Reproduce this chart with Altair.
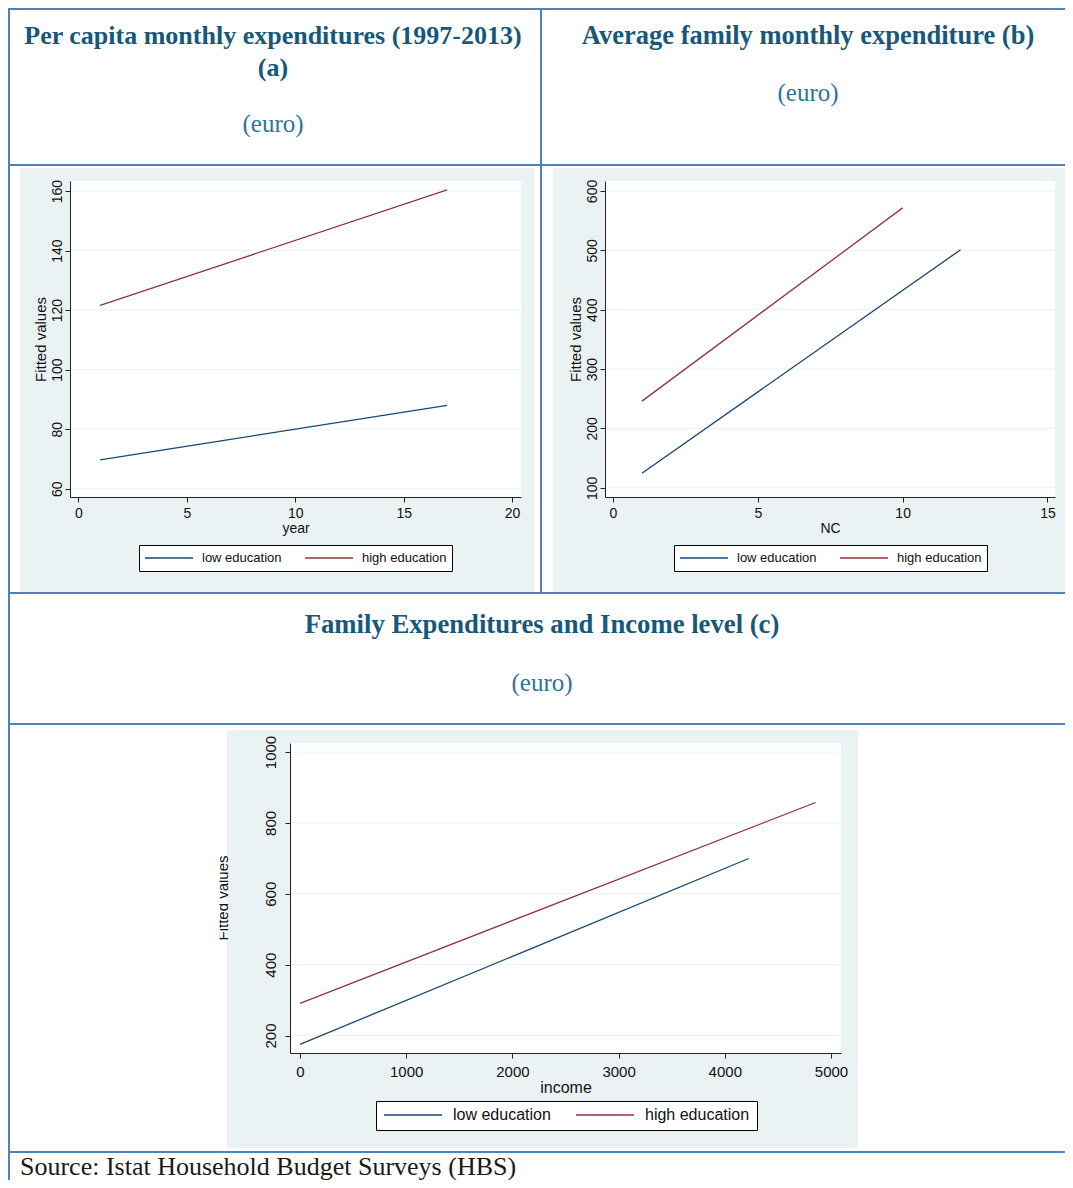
import altair as alt
import pandas as pd

# ---------------- data ----------------
groups = ["low education", "high education"]
group_colors = ["#1a476f", "#90353b"]

# (a) Per capita monthly expenditures, fitted values vs year
a_year_low = [1, 17]
a_val_low = [69.7, 88.0]
a_year_high = [1, 17]
a_val_high = [121.6, 160.4]
a_xticks = [0, 5, 10, 15, 20]
a_yticks = [60, 80, 100, 120, 140, 160]

# (b) Average family monthly expenditure, fitted values vs NC
b_nc_low = [1, 12]
b_val_low = [124.5, 501.0]
b_nc_high = [1, 10]
b_val_high = [246.0, 571.5]
b_xticks = [0, 5, 10, 15]
b_yticks = [100, 200, 300, 400, 500, 600]

# (c) Family expenditures and income level, fitted values vs income
c_inc_low = [0, 4225]
c_val_low = [175.0, 699.5]
c_inc_high = [0, 4855]
c_val_high = [291.0, 857.5]
c_xticks = [0, 1000, 2000, 3000, 4000, 5000]
c_yticks = [200, 400, 600, 800, 1000]

title_a = ["Per capita monthly expenditures (1997-2013)", "(a)"]
title_b = "Average family monthly expenditure (b)"
title_c = "Family Expenditures and Income level (c)"
unit_label = "(euro)"
source_label = "Source:  Istat Household Budget Surveys (HBS)"
y_title = "Fitted values"

# ---------------- style ----------------
W, H = 1057, 1172
M = 8
RIGHT = M + W
SERIF = "Liberation Serif"
SANS = "Liberation Sans"
BLUE = "#4f81bd"
BG = "#eaf2f3"
GRID = "#eaf2f3"
AX = "#222222"
TX = "#111111"
TITLE_COL = "#17587a"
EURO_COL = "#2f7399"


def X(px):
    return px - M


def Y(py):
    return py - M


one = alt.Data(values=[{"k": 1}])


def box(x1, y1, x2, y2, color):
    return alt.Chart(one).mark_rect(color=color, strokeWidth=0).encode(
        x=alt.value(X(x1)), x2=alt.value(X(x2)), y=alt.value(Y(y1)), y2=alt.value(Y(y2))
    )


def hline(y, x1, x2):
    return alt.Chart(one).mark_rule(color=BLUE, strokeWidth=2).encode(
        x=alt.value(X(x1)), x2=alt.value(X(x2)), y=alt.value(Y(y))
    )


def vline(x, y1, y2):
    return alt.Chart(one).mark_rule(color=BLUE, strokeWidth=2).encode(
        x=alt.value(X(x)), y=alt.value(Y(y1)), y2=alt.value(Y(y2))
    )


def txt(s, x, y, size, color, weight="normal", font=SERIF, align="center",
        baseline="alphabetic", angle=0):
    return alt.Chart(one).mark_text(
        text=s, font=font, fontSize=size, fontWeight=weight, color=color,
        align=align, baseline=baseline, angle=angle
    ).encode(x=alt.value(X(x)), y=alt.value(Y(y)))


def make_df(xname, xl, yl, xh, yh):
    return pd.DataFrame({
        xname: list(xl) + list(xh),
        "value": list(yl) + list(yh),
        "group": [groups[0]] * len(xl) + [groups[1]] * len(xh),
    })


def panel(df, xname, xdom, xr, xticks, xtitle, ydom, yr, yticks, ytitle,
          fs, tfs, xpad, ypad, xtpad, leg_xy, leg_fs, sym_len, leg_pad, col_pad,
          lab_off, clip):
    common = dict(domainColor=AX, tickColor=AX, domainWidth=1, tickWidth=1, tickSize=5,
                  labelColor=TX, titleColor=TX, labelFont=SANS, titleFont=SANS,
                  labelFontSize=fs, titleFontWeight="normal", format="d",
                  grid=False, labelFlush=False, labelOverlap=False, zindex=1,
                  minExtent=0)
    xa = alt.Axis(orient="bottom", offset=Y(yr[0]) - H, values=xticks, title=xtitle,
                  labelPadding=xpad, titlePadding=xtpad, titleFontSize=tfs, **common)
    ya = alt.Axis(orient="left", offset=-X(xr[0]), values=yticks, title=ytitle,
                  labelAngle=270, labelAlign="center", labelBaseline="bottom",
                  labelPadding=ypad, titlePadding=2, titleFontSize=tfs + 1, **common)
    xs = alt.Scale(domain=xdom, range=[X(xr[0]), X(xr[1])], nice=False, zero=False)
    ys = alt.Scale(domain=ydom, range=[Y(yr[0]), Y(yr[1])], nice=False, zero=False)
    grid = alt.Chart(pd.DataFrame({"value": yticks})).mark_rule(
        color=GRID, strokeWidth=1
    ).encode(
        y=alt.Y("value:Q", scale=ys, axis=ya),
        x=alt.value(X(xr[0])), x2=alt.value(X(xr[1])),
    )
    leg = alt.Legend(orient="none", legendX=X(leg_xy[0]), legendY=Y(leg_xy[1]),
                     direction="horizontal", symbolType="stroke",
                     symbolSize=sym_len ** 2, symbolStrokeWidth=1.3,
                     labelFont=SANS, labelFontSize=leg_fs, labelColor=TX,
                     labelOffset=lab_off, columnPadding=col_pad, padding=leg_pad,
                     strokeColor="#000000", fillColor="#ffffff", clipHeight=clip,
                     title=None)
    lines = alt.Chart(df).mark_line(strokeWidth=1.3).encode(
        x=alt.X(xname + ":Q", scale=xs, axis=xa),
        y=alt.Y("value:Q", scale=ys, axis=ya),
        color=alt.Color("group:N", scale=alt.Scale(domain=groups, range=group_colors),
                        legend=leg),
    )
    return alt.layer(grid, lines)


df_a = make_df("year", a_year_low, a_val_low, a_year_high, a_val_high)
df_b = make_df("NC", b_nc_low, b_val_low, b_nc_high, b_val_high)
df_c = make_df("income", c_inc_low, c_val_low, c_inc_high, c_val_high)

pa = panel(df_a, "year", [-0.39, 20.41], [70, 521], a_xticks, "year",
           [57.2, 163.4], [497, 181], a_yticks, y_title,
           14, 14, 4, 1, 1, (139, 545), 13, 48, 5, 22, 8, 16)
pb = panel(df_b, "NC", [-0.276, 15.26], [605, 1055], b_xticks, "NC",
           [84.5, 616.8], [497, 181], b_yticks, y_title,
           14, 14, 4, 1, 1, (674, 545), 13, 48, 5, 22, 8, 16)
pc = panel(df_c, "income", [-94, 5094], [290, 841], c_xticks, "income",
           [150.7, 1025.4], [1053, 743], c_yticks, "",
           15, 16, 6, 7, 0, (376, 1101), 16, 58, 7, 24, 10, 14)

decor = [
    # Stata graph regions
    box(20, 168, 534, 592, BG),
    box(553, 168, RIGHT, 592, BG),
    box(227, 730, 858, 1148, BG),
    # plot regions
    box(70, 181, 521, 497, "#ffffff"),
    box(605, 181, 1055, 497, "#ffffff"),
    box(290, 743, 841, 1053, "#ffffff"),
    # table borders
    hline(9, 8, RIGHT),
    vline(9, 8, 1188),
    vline(541, 8, 593),
    hline(165, 8, RIGHT),
    hline(593, 8, RIGHT),
    hline(724, 8, RIGHT),
    hline(1152, 8, RIGHT),
    # headings
    txt(title_a[0], 273, 44, 26, TITLE_COL, "bold"),
    txt(title_a[1], 273, 76, 26, TITLE_COL, "bold"),
    txt(unit_label, 273, 132, 25, EURO_COL),
    txt(title_b, 808, 44, 26.5, TITLE_COL, "bold"),
    txt(unit_label, 808, 101, 25, EURO_COL),
    txt(title_c, 542, 633, 26.7, TITLE_COL, "bold"),
    txt(unit_label, 542, 691, 25, EURO_COL),
    txt(source_label, 20, 1175, 26, "#1a1a1a", align="left"),
]

top = [
    txt(y_title, 228, 898, 15, TX, font=SANS, angle=270),
    box(205, 850, 219.5, 950, "#ffffff"),
]

chart = alt.layer(*decor, pa, pb, pc, *top).resolve_scale(
    x="independent", y="independent", color="independent"
).resolve_axis(
    x="independent", y="independent"
).resolve_legend(
    color="independent"
).properties(
    width=W, height=H, padding=0, background="#ffffff",
    autosize=alt.AutoSizeParams(type="none"),
).configure_view(strokeWidth=0)

chart.save("out.html", embed_options={"renderer": "svg", "actions": False})
